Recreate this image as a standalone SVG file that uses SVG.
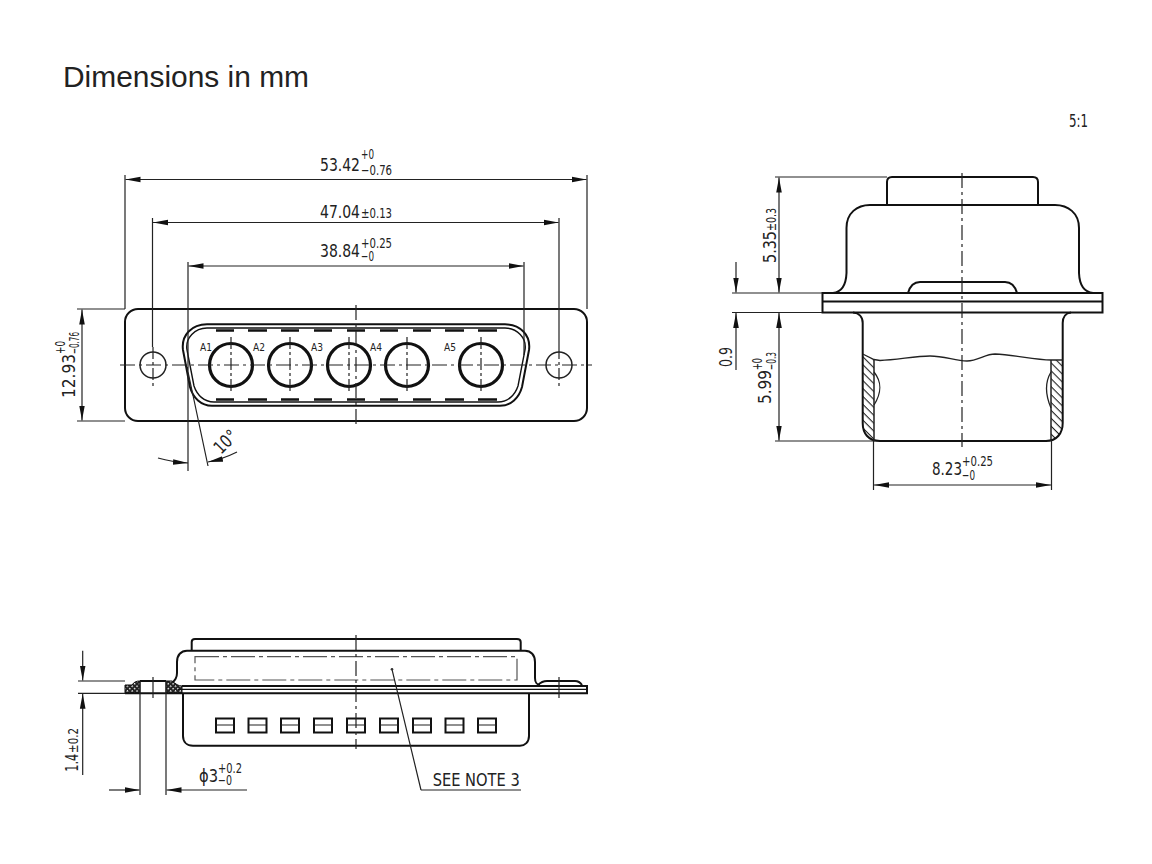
<svg xmlns="http://www.w3.org/2000/svg" width="1152" height="864" viewBox="0 0 1152 864">
<style>
.t{fill:none;stroke:#222;stroke-width:1.2}
.k{fill:none;stroke:#111;stroke-width:2}
.c{fill:none;stroke:#222;stroke-width:1.2;stroke-dasharray:15 4 3 4}
.pin{fill:none;stroke:#111;stroke-width:3.2}
.dim{fill:none;stroke:#222;stroke-width:1.2;marker-start:url(#a);marker-end:url(#a)}
.d1{fill:none;stroke:#222;stroke-width:1.2;marker-end:url(#a)}
text{font-family:"Liberation Sans Narrow","DejaVu Sans Condensed","Liberation Sans",sans-serif;fill:#222}
.b{font-size:18px}
.s{font-size:14px}
.l{font-size:11px}
</style>
<defs>
<marker id="a" markerUnits="userSpaceOnUse" markerWidth="16" markerHeight="7" refX="15" refY="3.500" orient="auto-start-reverse"><path d="M0 .7L15 3.500L0 6.300Z" fill="#111"/></marker>
<pattern id="h" width="5.600" height="5.600" patternUnits="userSpaceOnUse" patternTransform="rotate(45)"><rect width="5.600" height="5.600" fill="#fff"/><rect width="5.600" height="1.100" fill="#222"/></pattern>
<pattern id="h2" width="3.400" height="3.400" patternUnits="userSpaceOnUse" patternTransform="rotate(45)"><rect width="3.400" height="3.400" fill="#222"/><rect width="1.400" height="1.400" fill="#fff"/></pattern>
</defs>

<text id="title" x="63" y="87" style="font-family:'Liberation Sans',Arial,sans-serif;font-size:29.900px" textLength="246" lengthAdjust="spacingAndGlyphs">Dimensions in mm</text>
<text id="scale" x="1069" y="127" class="b" style="font-size:17px" textLength="19" lengthAdjust="spacingAndGlyphs">5:1</text>

<g id="front-view">
<rect class="k" x="125" y="309" width="462" height="112" rx="13"/>
<path class="k" d="M207 324.300H505C520 324.300 531 335 529 350L522 387C519 398 511 405.700 500 405.700H212C201 405.700 193 398 190 387L183 350C181 335 192 324.300 207 324.300Z"/>
<path class="k" style="stroke-width:1.400" d="M207 328H505C517 328 527 338 525 350L518 386C515 395 508 402 498 402H214C204 402 197 395 194 386L187 350C185 338 195 328 207 328Z"/>
<circle class="t" style="stroke-width:1.500" cx="153" cy="365" r="13"/>
<circle class="t" style="stroke-width:1.500" cx="559" cy="365" r="13"/>
<g class="pin">
<circle cx="231" cy="365" r="21.500"/><circle cx="290" cy="365" r="21.500"/><circle cx="349" cy="365" r="21.500"/><circle cx="407" cy="365" r="21.500"/><circle cx="481" cy="365" r="21.500"/>
</g>
<path stroke="#111" stroke-width="2.600" fill="none" d="M216 330.500h18M248 330.500h19M281 330.500h18M314 330.500h18M347 330.500h18M380 330.500h18M413 330.500h18M445 330.500h19M478 330.500h19M216 399.500h18M248 399.500h19M281 399.500h18M314 399.500h18M347 399.500h18M380 399.500h18M413 399.500h18M445 399.500h19M478 399.500h19"/>
<path class="c" d="M120 365H592"/>
<path class="c" d="M356 305V426"/>
<path class="t" stroke-dasharray="12 3 3 3" d="M231 337V394M290 337V394M349 337V394M407 337V394M481 337V394M153 347V387M559 347V387"/>
<text class="l" x="200" y="351" textLength="12" lengthAdjust="spacingAndGlyphs">A1</text>
<text class="l" x="253" y="351" textLength="12" lengthAdjust="spacingAndGlyphs">A2</text>
<text class="l" x="311" y="351" textLength="12" lengthAdjust="spacingAndGlyphs">A3</text>
<text class="l" x="370" y="351" textLength="12" lengthAdjust="spacingAndGlyphs">A4</text>
<text class="l" x="444" y="351" textLength="12" lengthAdjust="spacingAndGlyphs">A5</text>
</g>

<g id="front-dimensions">
<path class="t" d="M125 175V309M587 175V309M152.500 218V347M559 218V347M188 262V471M524 262V355M77 309H125M77 421H125M187 367L208 466"/>
<path class="dim" d="M125.500 179.500H586.500"/>
<path class="dim" d="M153 222.500H558.500"/>
<path class="dim" d="M188.500 266H523.500"/>
<path class="dim" d="M82 309.500V420.500"/>
<path class="d1" d="M158 458Q172 462 188 463"/>
<path class="d1" d="M237 452Q223 459 208 462"/>
<text class="b" x="320" y="171" textLength="40" lengthAdjust="spacingAndGlyphs">53.42</text>
<text class="s" x="361" y="159" textLength="13" lengthAdjust="spacingAndGlyphs">+0</text>
<text class="s" x="361" y="175" textLength="31" lengthAdjust="spacingAndGlyphs">−0.76</text>
<text class="b" x="320" y="218" textLength="40" lengthAdjust="spacingAndGlyphs">47.04</text>
<text class="s" x="361" y="218" textLength="31" lengthAdjust="spacingAndGlyphs">±0.13</text>
<text class="b" x="320" y="257" textLength="40" lengthAdjust="spacingAndGlyphs">38.84</text>
<text class="s" x="361" y="248" textLength="31" lengthAdjust="spacingAndGlyphs">+0.25</text>
<text class="s" x="361" y="261" textLength="13" lengthAdjust="spacingAndGlyphs">−0</text>
<text class="b" transform="translate(75 398) rotate(-90)" textLength="44" lengthAdjust="spacingAndGlyphs">12.93</text>
<text class="s" transform="translate(65 354) rotate(-90)" textLength="13" lengthAdjust="spacingAndGlyphs">+0</text>
<text class="s" transform="translate(79 354) rotate(-90)" textLength="22" lengthAdjust="spacingAndGlyphs">−0.76</text>
<text class="b" transform="translate(221 455) rotate(-45)" textLength="25" lengthAdjust="spacingAndGlyphs">10°</text>
</g>

<g id="side-view">
<path class="k" d="M887 205V182Q887 177 892 177H1033Q1038 177 1038 182V205"/>
<path class="k" d="M833 293C842 292 846 285 846.500 273V228C846.500 213 857 205 870 205H1055C1068 205 1079 213 1079 228V273C1079.500 285 1084 292 1093 293"/>
<path class="k" d="M908 293C910 286 914 282 920 282H1005C1011 282 1015 286 1017 293"/>
<rect class="k" x="822.500" y="293" width="280" height="19.500"/>
<path class="k" d="M822.500 301.500H1102.500"/>
<path fill="url(#h)" d="M862.700 354L874 360V441C866 438 862.700 431 862.700 423Z"/>
<path fill="url(#h)" d="M1062.700 360H1051V441C1059 438 1062.700 431 1062.700 423Z"/>
<path class="k" d="M853 312.500C859 313 862.700 317 862.700 323V423C862.700 433 868 441 880 441H1046C1057 441 1062.700 433 1062.700 423V323C1062.700 317 1066 313 1071 312.500"/>
<path class="t" style="stroke-width:1.500" d="M874 360V441M1051 360V441"/>
<path class="t" style="stroke-width:1.300" d="M862.700 354L874 359.500L880 360.500C897 360 915 356 930 356C945 356 955 361 967 361C978 361 985 354 995 354C1015 355 1035 360 1051 360H1062.700"/>
<path class="t" style="stroke-width:1.300" d="M874 372C882 382 882 392 874 405M1051 372C1045 382 1045 394 1051 408"/>
<path class="c" d="M962 173V447"/>
</g>

<g id="side-dimensions">
<path class="t" d="M775 177H887M732 293H822M732 312.500H822M775 441H875M873.500 441V490M1051.500 441V490"/>
<path class="dim" d="M779 177.500V292.500"/>
<path class="dim" d="M779 313V440.500"/>
<path class="d1" d="M736 262V292.500"/>
<path class="d1" d="M736 370V313"/>
<path class="dim" d="M874 485H1051"/>
<text class="b" transform="translate(776 263) rotate(-90)" textLength="32" lengthAdjust="spacingAndGlyphs">5.35</text>
<text class="s" transform="translate(776 231) rotate(-90)" textLength="23" lengthAdjust="spacingAndGlyphs">±0.3</text>
<text class="b" transform="translate(732 367) rotate(-90)" textLength="20" lengthAdjust="spacingAndGlyphs">0.9</text>
<text class="b" transform="translate(771 404) rotate(-90)" textLength="34" lengthAdjust="spacingAndGlyphs">5.99</text>
<text class="s" transform="translate(762 370) rotate(-90)" textLength="12" lengthAdjust="spacingAndGlyphs">+0</text>
<text class="s" transform="translate(776 370) rotate(-90)" textLength="18" lengthAdjust="spacingAndGlyphs">−0.3</text>
<text class="b" x="932" y="475" textLength="30" lengthAdjust="spacingAndGlyphs">8.23</text>
<text class="s" x="962" y="466" textLength="31" lengthAdjust="spacingAndGlyphs">+0.25</text>
<text class="s" x="962" y="480" textLength="13" lengthAdjust="spacingAndGlyphs">−0</text>
</g>

<g id="bottom-view">
<path class="k" d="M191.700 650.700V642Q191.700 639 195 639H517Q520.700 639 520.700 642V650.700"/>
<path class="k" d="M172 683C175 680 177 678 177 673V662C177 655 181 650.700 187 650.700H525C531 650.700 535 655 535 662V678C535 682 537 685 540 685"/>
<path class="t" stroke-dasharray="24 4 4 4" d="M195 656.700H517V680H195Z" style="stroke:#555"/>
<path class="k" d="M140 681H166"/>
<path fill="url(#h2)" stroke="#111" d="M125 693.300V685H132C134 682 136 681 140 681V693.300Z"/>
<path fill="url(#h2)" stroke="#111" d="M166 693.300V681H172C176 684 178 686 182 686V693.300Z"/>
<path class="k" d="M182 686H587V693.300H125"/>
<path class="k" style="stroke-width:1.300" d="M178 689.300H587"/>
<path class="k" d="M538 685C541 682 543 681 547 681H575C578 681 580 682 582 685"/>
<path class="k" d="M183 694V736C183 742 187 745.700 193 745.700H520C525 745.700 529 742 529 736V694"/>
<g class="k">
<rect x="216" y="718.500" width="18" height="14"/><rect x="248.500" y="718.500" width="18" height="14"/><rect x="281" y="718.500" width="18" height="14"/><rect x="314" y="718.500" width="18" height="14"/><rect x="347" y="718.500" width="18" height="14"/><rect x="380" y="718.500" width="18" height="14"/><rect x="413" y="718.500" width="18" height="14"/><rect x="445.500" y="718.500" width="18" height="14"/><rect x="478" y="718.500" width="18" height="14"/>
</g>
<path class="t" d="M216 725h18M248.500 725h18M281 725h18M314 725h18M347 725h18M380 725h18M413 725h18M445.500 725h18M478 725h18"/>
<path class="c" d="M356 635V749"/>
<path class="t" d="M153 677V698M559 677V698"/>
</g>

<g id="bottom-dimensions">
<path class="t" d="M78 681H125M78 693.300H125M140 681V795M166 681V795M421 790H521M421 790L392 669.300"/>
<circle cx="392" cy="669.300" r="1.300" fill="#333"/>
<path class="d1" d="M82.700 650.700V680.500"/>
<path class="d1" d="M82.700 775V693.800"/>
<path class="d1" d="M109 790H139.500"/>
<path class="d1" d="M247 790H166.500"/>
<text class="b" transform="translate(78 771.700) rotate(-90)" textLength="18" lengthAdjust="spacingAndGlyphs">1.4</text>
<text class="s" transform="translate(78 753) rotate(-90)" textLength="25" lengthAdjust="spacingAndGlyphs">±0.2</text>
<text class="b" x="199" y="781.700" textLength="19" lengthAdjust="spacingAndGlyphs">ϕ3</text>
<text class="s" x="218" y="773" textLength="24" lengthAdjust="spacingAndGlyphs">+0.2</text>
<text class="s" x="218" y="785" textLength="14" lengthAdjust="spacingAndGlyphs">−0</text>
<text class="s" x="432.700" y="785.700" style="font-size:17px" textLength="87" lengthAdjust="spacingAndGlyphs">SEE NOTE 3</text>
</g>
</svg>
